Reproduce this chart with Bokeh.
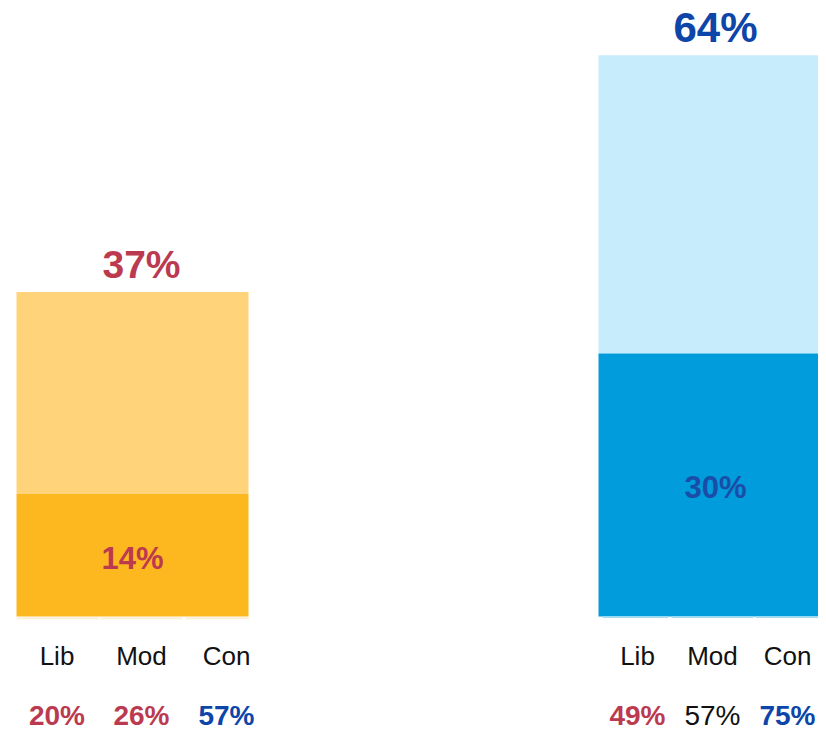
from bokeh.plotting import figure
from bokeh.models import Range1d
from bokeh.core.properties import value
from bokeh.embed import file_html
from bokeh.resources import INLINE

# ---- data ----
groups = ["A", "B"]
totals = [37, 64]
lowers = [14, 30]
total_labels = ["37%", "64%"]
lower_labels = ["14%", "30%"]
subcats = ["Lib", "Mod", "Con"]
sub_values = [["20%", "26%", "57%"], ["49%", "57%", "75%"]]
sub_colors = [["#BB3A50", "#BB3A50", "#0D45A8"], ["#BB3A50", "#111111", "#0D45A8"]]
sub_weights = [["bold", "bold", "bold"], ["bold", "normal", "bold"]]

# ---- style / layout ----
light_cols = ["#FED37A", "#C7EDFC"]
dark_cols = ["#FDB71F", "#009CDC"]
seg_cols = ["#FDEFD3", "#A6DCF2"]
total_text_cols = ["#BB3A50", "#0D45A8"]
lower_text_cols = ["#BB3A50", "#1A4DA8"]
total_sizes = ["39px", "42px"]

PX = 8.77          # pixels per percentage point
BASE = 616.0       # figure y of the baseline
W, H = 818, 736

bar_left = [16, 598]
bar_right = [248, 830]
total_x = [141, 715]
lower_x = [132, 715]
label_x = [[56.5, 141, 226], [637, 712, 787]]
seg_x = [[(16, 98), (100, 182), (185, 249)], [(602, 668), (671, 753), (755, 820)]]
seg_y = [(1.0, 2.8), (-0.3, 1.5)]   # pixels below baseline (top, bottom)
cat_off, val_off = 39, 99            # pixels below baseline

def dy(px):
    return px / PX

p = figure(width=W, height=H, output_backend="svg", toolbar_location=None,
           x_range=Range1d(0, W),
           y_range=Range1d(-(H - BASE) / PX, BASE / PX),
           min_border=0)
p.axis.visible = False
p.grid.visible = False
p.outline_line_color = None
p.background_fill_color = "white"
p.border_fill_color = "white"

font = value("Liberation Sans")

for i, g in enumerate(groups):
    p.quad(left=bar_left[i], right=bar_right[i], bottom=lowers[i], top=totals[i],
           fill_color=light_cols[i], line_color=None)
    p.quad(left=bar_left[i], right=bar_right[i], bottom=0, top=lowers[i],
           fill_color=dark_cols[i], line_color=None)
    for (l, r) in seg_x[i]:
        p.quad(left=l, right=r, top=-dy(seg_y[i][0]), bottom=-dy(seg_y[i][1]),
               fill_color=seg_cols[i], line_color=None)
    p.text(x=[total_x[i]], y=[totals[i] + dy(28)], text=[total_labels[i]],
           text_font=font, text_font_style="bold", text_font_size=total_sizes[i],
           text_color=total_text_cols[i], text_align="center", text_baseline="middle")
    p.text(x=[lower_x[i]], y=[lowers[i] / 2 - dy(3)],
           text=[lower_labels[i]],
           text_font=font, text_font_style="bold", text_font_size="31px",
           text_color=lower_text_cols[i], text_align="center", text_baseline="middle")
    for j, c in enumerate(subcats):
        p.text(x=[label_x[i][j]], y=[-dy(cat_off)], text=[c],
               text_font=font, text_font_size="26px", text_color="#111111",
               text_align="center", text_baseline="middle")
        p.text(x=[label_x[i][j]], y=[-dy(val_off)], text=[sub_values[i][j]],
               text_font=font, text_font_style=sub_weights[i][j], text_font_size="28px",
               text_color=sub_colors[i][j], text_align="center", text_baseline="middle")

open("out.html", "w").write(file_html(p, INLINE))
